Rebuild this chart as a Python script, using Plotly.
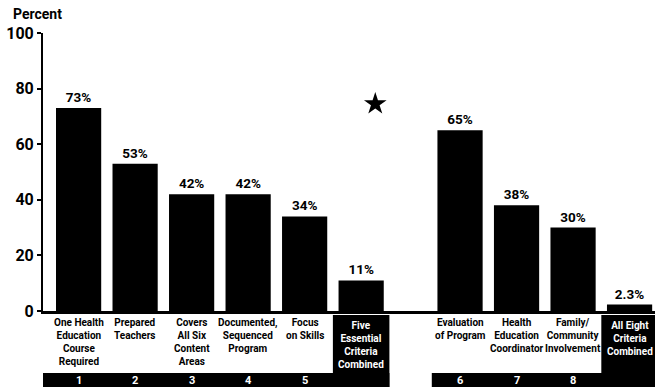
import plotly.graph_objects as go

# ---- data ----
categories = [
    "One Health<br>Education<br>Course<br>Required",
    "Prepared<br>Teachers",
    "Covers<br>All Six<br>Content<br>Areas",
    "Documented,<br>Sequenced<br>Program",
    "Focus<br>on Skills",
    "Five<br>Essential<br>Criteria<br>Combined",
    "Evaluation<br>of Program",
    "Health<br>Education<br>Coordinator",
    "Family/<br>Community<br>Involvement",
    "All Eight<br>Criteria<br>Combined",
]
positions = [0, 1, 2, 3, 4, 5, 6.75, 7.75, 8.75, 9.75]
values = [73, 53, 42, 42, 34, 11, 65, 38, 30, 2.3]
value_labels = ["73%", "53%", "42%", "42%", "34%", "11%", "65%", "38%", "30%", "2.3%"]
criterion_numbers = ["1", "2", "3", "4", "5", "", "6", "7", "8", ""]
combined_flags = [False, False, False, False, False, True, False, False, False, True]
star_x = [5.25]
star_y = [74.5]
y_ticks = [0, 20, 40, 60, 80, 100]

FONT = "Roboto, Liberation Sans, Arial, sans-serif"

fig = go.Figure()
fig.add_trace(go.Bar(
    x=positions, y=values, width=0.8,
    marker=dict(color="black", line=dict(width=0)),
    text=value_labels, textposition="outside", cliponaxis=False,
    textfont=dict(family=FONT, size=13.5, color="black", weight="bold"),
    hoverinfo="skip",
))
fig.add_trace(go.Scatter(
    x=star_x, y=star_y, mode="markers",
    marker=dict(symbol="star", size=17, color="black"),
    hoverinfo="skip",
))

def py(px_below_axis):
    return -px_below_axis / 278.0

shapes = []
shapes.append(dict(type="rect", xref="x", yref="paper", x0=-0.63, x1=5.5,
                   y0=py(76), y1=py(62), fillcolor="black", line=dict(width=0), layer="above"))
shapes.append(dict(type="rect", xref="x", yref="paper", x0=6.25, x1=10.3,
                   y0=py(76), y1=py(62), fillcolor="black", line=dict(width=0), layer="above"))
annotations = []
for pos, cat, num, comb in zip(positions, categories, criterion_numbers, combined_flags):
    if comb:
        shapes.append(dict(type="rect", xref="x", yref="paper", x0=pos - 0.5, x1=pos + 0.5,
                           y0=py(76), y1=py(4), fillcolor="black", line=dict(width=0), layer="above"))
    annotations.append(dict(
        x=pos, xref="x", y=py(7) if comb else py(4), yref="paper",
        yanchor="top", xanchor="center", showarrow=False, text=cat,
        font=dict(family=FONT, size=10, color="white" if comb else "black", weight="bold"),
    ))
    if num:
        annotations.append(dict(
            x=pos, xref="x", y=py(69), yref="paper", yanchor="middle",
            showarrow=False, text=num,
            font=dict(family=FONT, size=11, color="white", weight="bold"),
        ))
annotations.append(dict(
    x=-32 / 612.0, xref="paper", y=1 + 19 / 278.0, yref="paper",
    xanchor="left", yanchor="middle", showarrow=False, text="Percent",
    font=dict(family=FONT, size=14, color="black", weight="bold"),
))

fig.update_layout(
    width=655, height=387,
    margin=dict(l=43, r=0, t=33, b=76),
    paper_bgcolor="white", plot_bgcolor="white",
    showlegend=False,
    shapes=shapes, annotations=annotations,
    xaxis=dict(range=[-0.63, 10.2], showticklabels=False, ticks="",
               showgrid=False, zeroline=False,
               showline=True, linecolor="black", linewidth=3),
    yaxis=dict(range=[0, 100], tickvals=y_ticks, ticks="outside", ticklen=4,
               tickwidth=2, tickcolor="black", showgrid=False, zeroline=False,
               showline=True, linecolor="black", linewidth=2,
               tickfont=dict(family=FONT, size=16, color="black", weight="bold")),
)

fig.write_html("out.html", config={"displayModeBar": False},
               post_script="document.body.style.margin='0';")
